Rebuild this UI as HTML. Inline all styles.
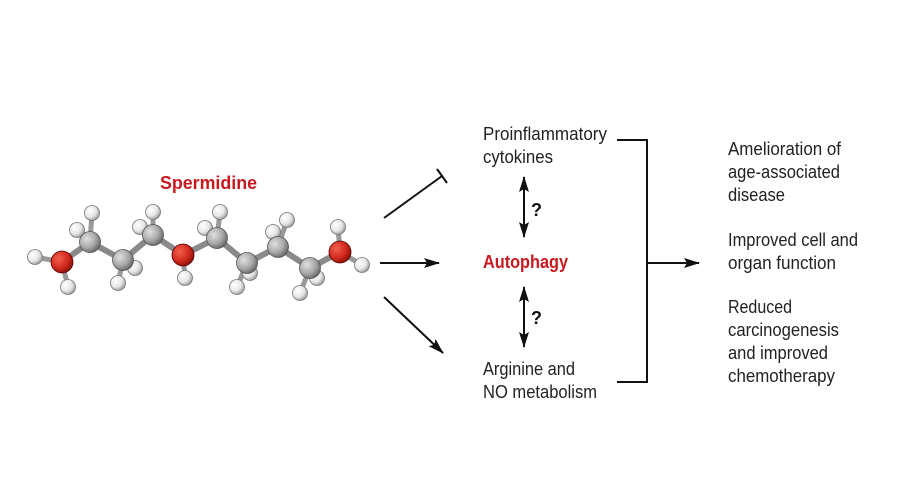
<!DOCTYPE html>
<html><head><meta charset="utf-8"><style>html,body{margin:0;padding:0;background:#fff}svg{display:block}</style></head><body>
<svg width="900" height="500" viewBox="0 0 900 500" xmlns="http://www.w3.org/2000/svg" font-family="'Liberation Sans', sans-serif">
<defs>
<radialGradient id="gh" cx="35%" cy="35%" r="70%"><stop offset="0" stop-color="#fff"/><stop offset="0.6" stop-color="#e6e6e6"/><stop offset="1" stop-color="#999"/></radialGradient>
<radialGradient id="gc" cx="35%" cy="35%" r="70%"><stop offset="0" stop-color="#e0e0e0"/><stop offset="0.6" stop-color="#a8a8a8"/><stop offset="1" stop-color="#666"/></radialGradient>
<radialGradient id="gn" cx="35%" cy="35%" r="70%"><stop offset="0" stop-color="#f06050"/><stop offset="0.6" stop-color="#d42a1e"/><stop offset="1" stop-color="#8a1008"/></radialGradient>
<marker id="ar" markerWidth="16" markerHeight="10" refX="15" refY="5" orient="auto" markerUnits="userSpaceOnUse"><path d="M0,0 L16,5 L0,10 L3,5 Z" fill="#111"/></marker>
<marker id="al" markerWidth="16" markerHeight="10" refX="1" refY="5" orient="auto" markerUnits="userSpaceOnUse"><path d="M16,0 L0,5 L16,10 L13,5 Z" fill="#111"/></marker>
</defs>
<g stroke="#999" stroke-width="5" stroke-linecap="round">
<line x1="62" y1="262" x2="35" y2="257"/><line x1="62" y1="262" x2="68" y2="287"/>
<line x1="90" y1="242" x2="77" y2="230"/><line x1="90" y1="242" x2="92" y2="213"/>
<line x1="123" y1="260" x2="118" y2="283"/><line x1="123" y1="260" x2="135" y2="268"/>
<line x1="153" y1="235" x2="140" y2="227"/><line x1="153" y1="235" x2="153" y2="212"/>
<line x1="183" y1="255" x2="185" y2="278"/>
<line x1="217" y1="238" x2="205" y2="228"/><line x1="217" y1="238" x2="220" y2="212"/>
<line x1="247" y1="263" x2="237" y2="287"/><line x1="247" y1="263" x2="250" y2="273"/>
<line x1="278" y1="247" x2="273" y2="232"/><line x1="278" y1="247" x2="287" y2="220"/>
<line x1="310" y1="268" x2="300" y2="293"/><line x1="310" y1="268" x2="317" y2="278"/>
<line x1="340" y1="252" x2="338" y2="227"/><line x1="340" y1="252" x2="362" y2="265"/>
</g>
<polyline points="62,262 90,242 123,260 153,235 183,255 217,238 247,263 278,247 310,268 340,252" fill="none" stroke="#8a8a8a" stroke-width="6"/>
<g fill="url(#gh)" stroke="#777" stroke-width="0.8">
<circle cx="35" cy="257" r="7.5"/><circle cx="68" cy="287" r="7.5"/><circle cx="77" cy="230" r="7.5"/><circle cx="92" cy="213" r="7.5"/>
<circle cx="118" cy="283" r="7.5"/><circle cx="135" cy="268" r="7.5"/><circle cx="140" cy="227" r="7.5"/><circle cx="153" cy="212" r="7.5"/>
<circle cx="185" cy="278" r="7.5"/><circle cx="205" cy="228" r="7.5"/><circle cx="220" cy="212" r="7.5"/><circle cx="237" cy="287" r="7.5"/>
<circle cx="250" cy="273" r="7.5"/><circle cx="273" cy="232" r="7.5"/><circle cx="287" cy="220" r="7.5"/><circle cx="300" cy="293" r="7.5"/>
<circle cx="317" cy="278" r="7.5"/><circle cx="338" cy="227" r="7.5"/><circle cx="362" cy="265" r="7.5"/>
</g>
<g fill="url(#gc)" stroke="#555" stroke-width="0.8">
<circle cx="90" cy="242" r="10.5"/><circle cx="123" cy="260" r="10.5"/><circle cx="153" cy="235" r="10.5"/><circle cx="217" cy="238" r="10.5"/>
<circle cx="247" cy="263" r="10.5"/><circle cx="278" cy="247" r="10.5"/><circle cx="310" cy="268" r="10.5"/>
</g>
<g fill="url(#gn)" stroke="#500" stroke-width="0.8">
<circle cx="62" cy="262" r="11"/><circle cx="183" cy="255" r="11"/><circle cx="340" cy="252" r="11"/>
</g>
<text x="160" y="189" font-size="18" font-weight="bold" fill="#c8191e" textLength="97" lengthAdjust="spacingAndGlyphs">Spermidine</text>
<g stroke="#111" stroke-width="2" fill="none">
<line x1="384" y1="218" x2="442" y2="176"/>
<line x1="437" y1="169" x2="447" y2="183"/>
<line x1="380" y1="263" x2="439" y2="263" marker-end="url(#ar)"/>
<line x1="384" y1="297" x2="443" y2="353" marker-end="url(#ar)"/>
<line x1="524" y1="177" x2="524" y2="237" marker-start="url(#al)" marker-end="url(#ar)"/>
<line x1="524" y1="287" x2="524" y2="347" marker-start="url(#al)" marker-end="url(#ar)"/>
<polyline points="617,140 647,140 647,382 617,382"/>
<line x1="647" y1="263" x2="699" y2="263" marker-end="url(#ar)"/>
</g>
<g font-size="18" font-weight="bold" fill="#111"><text x="531" y="216">?</text><text x="531" y="324">?</text></g>
<g font-size="18" fill="#222">
<text x="483" y="140" textLength="124" lengthAdjust="spacingAndGlyphs">Proinflammatory</text>
<text x="483" y="163" textLength="70" lengthAdjust="spacingAndGlyphs">cytokines</text>
<text x="483" y="375" textLength="92" lengthAdjust="spacingAndGlyphs">Arginine and</text>
<text x="483" y="398" textLength="114" lengthAdjust="spacingAndGlyphs">NO metabolism</text>
<text x="728" y="155" textLength="113" lengthAdjust="spacingAndGlyphs">Amelioration of</text>
<text x="728" y="178" textLength="112" lengthAdjust="spacingAndGlyphs">age-associated</text>
<text x="728" y="201" textLength="57" lengthAdjust="spacingAndGlyphs">disease</text>
<text x="728" y="246" textLength="130" lengthAdjust="spacingAndGlyphs">Improved cell and</text>
<text x="728" y="269" textLength="108" lengthAdjust="spacingAndGlyphs">organ function</text>
<text x="728" y="313" textLength="64" lengthAdjust="spacingAndGlyphs">Reduced</text>
<text x="728" y="336" textLength="111" lengthAdjust="spacingAndGlyphs">carcinogenesis</text>
<text x="728" y="359" textLength="100" lengthAdjust="spacingAndGlyphs">and improved</text>
<text x="728" y="382" textLength="107" lengthAdjust="spacingAndGlyphs">chemotherapy</text>
</g>
<text x="483" y="268" font-size="18" font-weight="bold" fill="#c8191e" textLength="85" lengthAdjust="spacingAndGlyphs">Autophagy</text>
</svg>
</body></html>
